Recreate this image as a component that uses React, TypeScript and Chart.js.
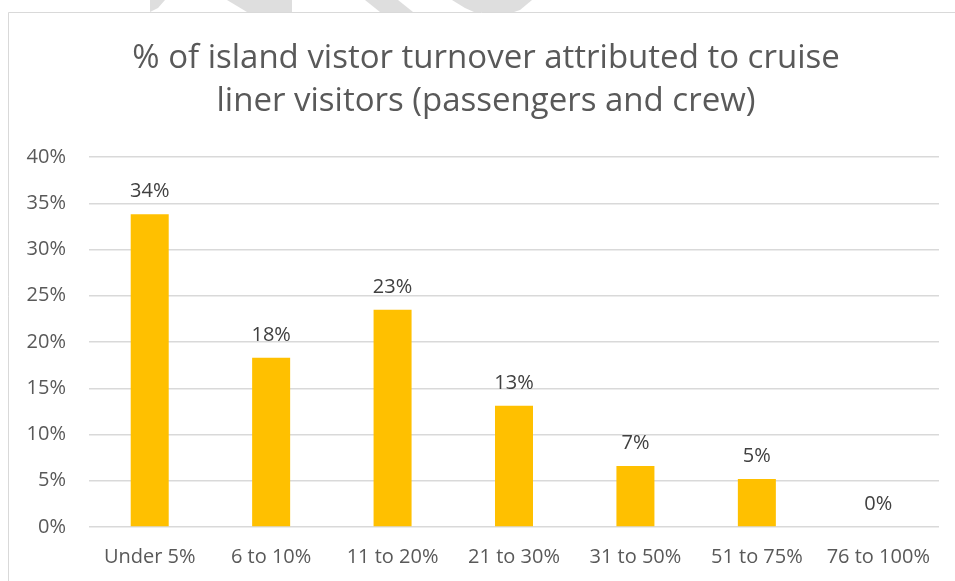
import React, { useEffect, useRef } from "react";
import { Chart, registerables } from "chart.js";

Chart.register(...registerables);

const categories = ["Under 5%", "6 to 10%", "11 to 20%", "21 to 30%", "31 to 50%", "51 to 75%", "76 to 100%"];
const values = [33.8, 18.3, 23.5, 13.1, 6.6, 5.2, 0];
const valueLabels = ["34%", "18%", "23%", "13%", "7%", "5%", "0%"];
const titleLines = ["% of island vistor turnover attributed to cruise", "liner visitors (passengers and crew)"];

const FONT = "'Open Sans', sans-serif";

const watermark: number[][][] = [
  [[150, 0], [165, 0], [158, 8], [150, 12]],
  [[227, 0], [292, 0], [292, 12], [247, 12]],
  [[365, 0], [398, 0], [413, 12], [380, 12]],
  [[452, 0], [532, 0], [520, 10], [514, 12], [474, 12], [465, 8]],
];

const decorPlugin = {
  id: "decor",
  beforeDraw(chart: any) {
    const ctx = chart.ctx;
    ctx.save();
    ctx.fillStyle = "#ffffff";
    ctx.fillRect(0, 0, chart.width, chart.height);
    ctx.fillStyle = "#dedede";
    watermark.forEach((poly) => {
      ctx.beginPath();
      poly.forEach(([x, y], i) => (i ? ctx.lineTo(x, y) : ctx.moveTo(x, y)));
      ctx.closePath();
      ctx.fill();
    });
    ctx.strokeStyle = "#d9d9d9";
    ctx.lineWidth = 1;
    ctx.beginPath();
    ctx.moveTo(8.5, chart.height);
    ctx.lineTo(8.5, 12.5);
    ctx.lineTo(chart.width, 12.5);
    ctx.stroke();
    ctx.fillStyle = "#595959";
    ctx.font = `33px ${FONT}`;
    ctx.textAlign = "center";
    ctx.textBaseline = "alphabetic";
    ctx.fillText(titleLines[0], 486, 68);
    ctx.fillText(titleLines[1], 486, 111);
    ctx.restore();
  },
  afterDatasetsDraw(chart: any) {
    const ctx = chart.ctx;
    const meta = chart.getDatasetMeta(0);
    ctx.save();
    ctx.fillStyle = "#404040";
    ctx.font = `20px ${FONT}`;
    ctx.textAlign = "center";
    ctx.textBaseline = "alphabetic";
    meta.data.forEach((bar: any, i: number) => {
      ctx.fillText(valueLabels[i], bar.x, bar.y - 17);
    });
    ctx.restore();
  },
};

export default function App() {
  const ref = useRef<HTMLCanvasElement>(null);
  useEffect(() => {
    document.body.style.margin = "0";
    const chart = new Chart(ref.current!, {
      type: "bar",
      data: {
        labels: categories,
        datasets: [
          {
            data: values,
            backgroundColor: "#FFC000",
            categoryPercentage: 1,
            barPercentage: 0.313,
          },
        ],
      },
      options: {
        animation: false,
        responsive: false,
        layout: { padding: { top: 157, right: 16, bottom: 0, left: 0 } },
        plugins: { legend: { display: false }, tooltip: { enabled: false }, title: { display: false } },
        scales: {
          x: {
            grid: { display: false, drawTicks: false },
            border: { display: false },
            ticks: { color: "#595959", font: { family: FONT, size: 20 }, padding: 18, maxRotation: 0 },
            afterFit: (s: any) => {
              s.height = 54;
            },
          },
          y: {
            min: 0,
            max: 40,
            ticks: {
              stepSize: 5,
              color: "#595959",
              font: { family: FONT, size: 20 },
              padding: 23,
              callback: (v: any) => v + "%",
            },
            grid: { color: "#d9d9d9", lineWidth: 1.5, drawTicks: false },
            border: { display: false },
            afterFit: (s: any) => {
              s.width = 89;
            },
          },
        },
      },
      plugins: [decorPlugin],
    });
    return () => chart.destroy();
  }, []);
  return <canvas ref={ref} width={955} height={581} style={{ display: "block" }} />;
}
